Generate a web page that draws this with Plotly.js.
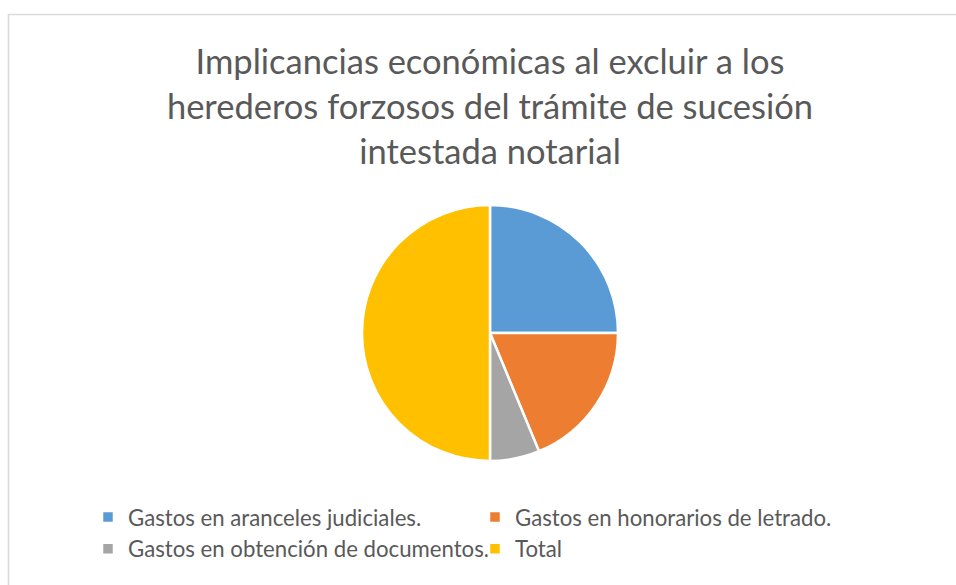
<!DOCTYPE html>
<html>
<head>
<meta charset="utf-8">
<script src="https://cdn.plot.ly/plotly-3.0.1.min.js"></script>
<style>html,body{margin:0;padding:0;background:#fff;overflow:hidden;}#chart{width:956px;height:585px;}</style>
</head>
<body>
<div id="chart"></div>
<script>
const categories = [
  "Gastos en aranceles judiciales.",
  "Gastos en honorarios de letrado.",
  "Gastos en obtención de documentos.",
  "Total"
];
const values = [25, 18.75, 6.25, 50];
const colors = ["#5B9BD5", "#ED7D31", "#A5A5A5", "#FFC000"];
const titleText = "Implicancias económicas al excluir a los<br>herederos forzosos del trámite de sucesión<br>intestada notarial";

const W = 956, H = 585;
const trace = {
  type: "pie",
  labels: categories,
  values: values,
  sort: false,
  direction: "clockwise",
  rotation: 0,
  textinfo: "none",
  hoverinfo: "label+value+percent",
  marker: {colors: colors, line: {color: "#ffffff", width: 2.5}},
  domain: {x: [362/W, 618/W], y: [1 - 461/H, 1 - 205/H]}
};

const layout = {
  width: W, height: H,
  margin: {l: 0, r: 0, t: 0, b: 0},
  paper_bgcolor: "#ffffff",
  font: {family: "Lato, 'Open Sans', sans-serif", color: "#595959"},
  title: {
    text: titleText,
    font: {family: "Lato, 'Open Sans', sans-serif", size: 34.5, color: "#595959"},
    x: 490/W, xanchor: "center",
    y: 1 - 74/H, yanchor: "top", yref: "container"
  },
  showlegend: true,
  legend: {
    orientation: "h",
    x: 88/W, xanchor: "left",
    y: 1 - 496/H, yanchor: "top",
    entrywidth: 342, entrywidthmode: "pixels",
    bgcolor: "rgba(0,0,0,0)",
    font: {size: 22.2, color: "#595959"},
    traceorder: "normal"
  },
  shapes: [{
    type: "rect", xref: "paper", yref: "paper",
    x0: 8.5/W, x1: 1.01, y0: -0.01, y1: 1 - 14.5/H,
    line: {color: "#DADADA", width: 1.6}, fillcolor: "rgba(0,0,0,0)"
  }]
};

Plotly.newPlot("chart", [trace], layout, {displayModeBar: false, staticPlot: true});
</script>
</body>
</html>
